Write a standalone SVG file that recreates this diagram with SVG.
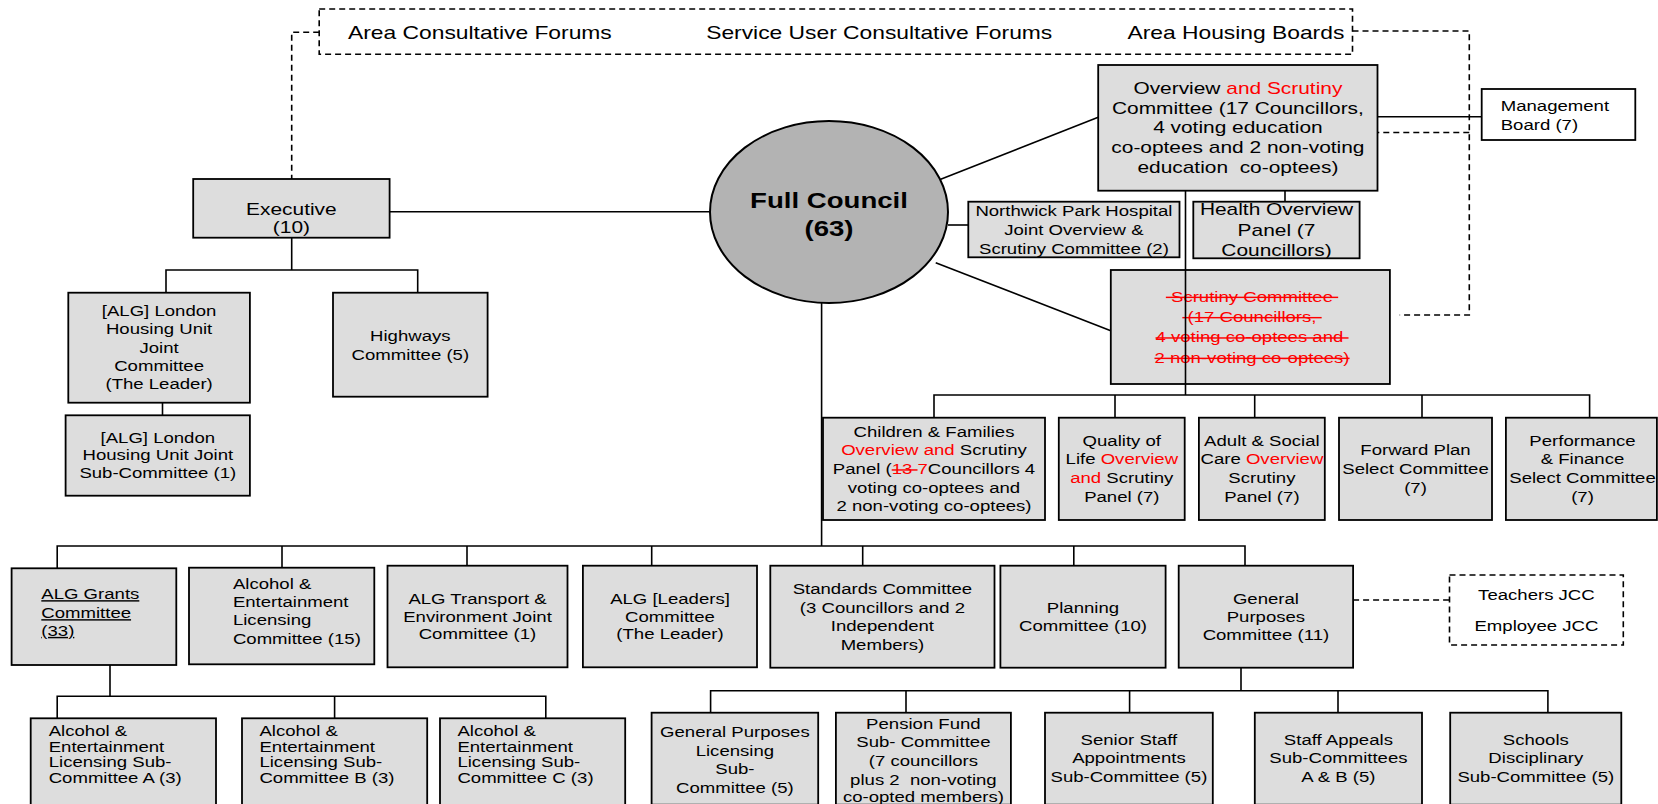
<svg xmlns="http://www.w3.org/2000/svg" width="1658" height="804" viewBox="0 0 1658 804">
<style>
.box{fill:#dddddd;stroke:#000;stroke-width:1.8}
.wbox{fill:#fff;stroke:#000;stroke-width:1.8}
.dbox{fill:#fff;stroke:#000;stroke-width:1.6;stroke-dasharray:6 4}
.ln{fill:none;stroke:#000;stroke-width:1.6}
.dl{fill:none;stroke:#000;stroke-width:1.6;stroke-dasharray:6 4}
text{font-family:"Liberation Sans",Arial,sans-serif;font-size:14.4px;fill:#000}
.c text{text-anchor:middle}
.big text{font-size:16.2px}
.top{font-size:17.7px}
.fc{font-size:21.4px;font-weight:bold}
.red{fill:#ff0000}
.strike{fill:#ff0000;text-decoration:line-through;white-space:pre}
.u{text-decoration:underline}
</style>

<g id="forums">
<rect class="dbox" x="319.2" y="9" width="1033.3" height="45.3"/>
<g class="c" transform="translate(479.9 0) scale(1.29 1)"><text class="top" x="0" y="39">Area Consultative Forums</text></g>
<g class="c" transform="translate(879.2 0) scale(1.29 1)"><text class="top" x="0" y="39">Service User Consultative Forums</text></g>
<g class="c" transform="translate(1235.9 0) scale(1.29 1)"><text class="top" x="0" y="39">Area Housing Boards</text></g>
</g>

<g id="executive">
<rect class="box" x="193.2" y="179" width="196.4" height="58.7"/>
<g class="c big" transform="translate(291.4 0) scale(1.29 1)"><text x="0" y="215">Executive</text><text x="0" y="233.5">(10)</text></g>
</g>

<g id="full-council">
<ellipse cx="829" cy="212" rx="119" ry="91" fill="#b3b3b3" stroke="#000" stroke-width="2"/>
<g class="c" transform="translate(829 0) scale(1.29 1)"><text class="fc" x="0" y="207.7">Full Council</text><text class="fc" x="0" y="236">(63)</text></g>
</g>

<g id="overview">
<rect class="box" x="1098.2" y="65" width="279.3" height="125.7"/>
<g class="c big" transform="translate(1237.9 0) scale(1.29 1)">
<text x="0" y="94.3">Overview <tspan class="red">and Scrutiny</tspan></text>
<text x="0" y="114.3">Committee (17 Councillors,</text>
<text x="0" y="133.3">4 voting education</text>
<text x="0" y="153.3">co-optees and 2 non-voting</text>
<text x="0" y="172.7" style="white-space:pre">education  co-optees)</text>
</g>
</g>

<g id="management">
<rect class="wbox" x="1481.7" y="89" width="153.6" height="51"/>
<g transform="translate(1500.7 0) scale(1.29 1)"><text x="0" y="111">Management</text><text x="0" y="130">Board (7)</text></g>
</g>

<g id="northwick">
<rect class="box" x="968.3" y="201.7" width="211.2" height="55.6"/>
<g class="c" transform="translate(1073.9 0) scale(1.29 1)">
<text x="0" y="216">Northwick Park Hospital</text>
<text x="0" y="235">Joint Overview &amp;</text>
<text x="0" y="254">Scrutiny Committee (2)</text>
</g>
</g>

<g id="health">
<rect class="box" x="1193.3" y="201.7" width="166.3" height="56.6"/>
<g class="c big" transform="translate(1276.5 0) scale(1.29 1)">
<text x="0" y="215">Health Overview</text>
<text x="0" y="236">Panel (7</text>
<text x="0" y="255.7">Councillors)</text>
</g>
</g>

<g id="scrutiny">
<rect class="box" x="1110.8" y="270" width="279.1" height="114"/>
<g class="c" transform="translate(1252 0) scale(1.29 1)">
<text class="strike" x="0" y="301.7"> Scrutiny Committee </text>
<text class="strike" x="0" y="322"> (17 Councillors, </text>
<text class="strike" x="0" y="342.3">4 voting co-optees and </text>
<text class="strike" x="0" y="362.7">2 non-voting co-optees)</text>
</g>
</g>

<g id="children-panel">
<rect class="box" x="823" y="417.7" width="222" height="102.3"/>
<g class="c" transform="translate(934 0) scale(1.29 1)">
<text x="0" y="437">Children &amp; Families</text>
<text x="0" y="455.3"><tspan class="red">Overview and</tspan> Scrutiny</text>
<text x="0" y="474.3" style="white-space:pre">Panel (<tspan class="strike">13 </tspan><tspan class="red">7</tspan>Councillors 4</text>
<text x="0" y="493">voting co-optees and</text>
<text x="0" y="511">2 non-voting co-optees)</text>
</g>
</g>

<g id="quality-panel">
<rect class="box" x="1058.8" y="417.7" width="125.9" height="102.3"/>
<g class="c" transform="translate(1121.8 0) scale(1.29 1)">
<text x="0" y="446.3">Quality of</text>
<text x="0" y="464.3">Life <tspan class="red">Overview</tspan></text>
<text x="0" y="483.3"><tspan class="red">and</tspan> Scrutiny</text>
<text x="0" y="501.7">Panel (7)</text>
</g>
</g>

<g id="adult-panel">
<rect class="box" x="1198.9" y="417.7" width="125.9" height="102.3"/>
<g class="c" transform="translate(1261.9 0) scale(1.29 1)">
<text x="0" y="446.3">Adult &amp; Social</text>
<text x="0" y="464.3">Care <tspan class="red">Overview</tspan></text>
<text x="0" y="483.3">Scrutiny</text>
<text x="0" y="501.7">Panel (7)</text>
</g>
</g>

<g id="forward-plan">
<rect class="box" x="1339" y="417.7" width="153" height="102.3"/>
<g class="c" transform="translate(1415.5 0) scale(1.29 1)">
<text x="0" y="455.3">Forward Plan</text>
<text x="0" y="474.3">Select Committee</text>
<text x="0" y="493">(7)</text>
</g>
</g>

<g id="performance">
<rect class="box" x="1505.9" y="417.7" width="151" height="102.3"/>
<g class="c" transform="translate(1582.5 0) scale(1.29 1)">
<text x="0" y="446.3">Performance</text>
<text x="0" y="464.3">&amp; Finance</text>
<text x="0" y="483.3">Select Committee</text>
<text x="0" y="501.7">(7)</text>
</g>
</g>

<g id="housing-joint">
<rect class="box" x="68.3" y="292.7" width="181.6" height="110"/>
<g class="c" transform="translate(159.1 0) scale(1.29 1)">
<text x="0" y="316">[ALG] London</text>
<text x="0" y="334.3">Housing Unit</text>
<text x="0" y="352.7">Joint</text>
<text x="0" y="371">Committee</text>
<text x="0" y="389.3">(The Leader)</text>
</g>
</g>

<g id="housing-sub">
<rect class="box" x="65.6" y="415.3" width="184.3" height="80.4"/>
<g class="c" transform="translate(157.8 0) scale(1.29 1)">
<text x="0" y="442.7">[ALG] London</text>
<text x="0" y="460.3">Housing Unit Joint</text>
<text x="0" y="477.7">Sub-Committee (1)</text>
</g>
</g>

<g id="highways">
<rect class="box" x="333" y="292.7" width="154.6" height="104"/>
<g class="c" transform="translate(410.3 0) scale(1.29 1)">
<text x="0" y="341">Highways</text>
<text x="0" y="360">Committee (5)</text>
</g>
</g>

<g id="alg-grants">
<rect class="box" x="11.6" y="568.3" width="164.7" height="96.7"/>
<g transform="translate(41.3 0) scale(1.29 1)">
<text class="u" x="0" y="599.3">ALG Grants</text>
<text class="u" x="0" y="618.3">Committee</text>
<text class="u" x="0" y="636">(33)</text>
</g>
</g>

<g id="alcohol-licensing">
<rect class="box" x="189" y="567.7" width="185.3" height="96.6"/>
<g transform="translate(232.9 0) scale(1.29 1)">
<text x="0" y="588.7">Alcohol &amp;</text>
<text x="0" y="607">Entertainment</text>
<text x="0" y="625.3">Licensing</text>
<text x="0" y="643.7">Committee (15)</text>
</g>
</g>

<g id="alg-transport">
<rect class="box" x="387.5" y="565.7" width="180" height="101.6"/>
<g class="c" transform="translate(477.5 0) scale(1.29 1)">
<text x="0" y="603.7">ALG Transport &amp;</text>
<text x="0" y="621.7">Environment Joint</text>
<text x="0" y="639.3">Committee (1)</text>
</g>
</g>

<g id="alg-leaders">
<rect class="box" x="582.9" y="565.7" width="174.1" height="101.6"/>
<g class="c" transform="translate(670 0) scale(1.29 1)">
<text x="0" y="603.7">ALG [Leaders]</text>
<text x="0" y="621.7">Committee</text>
<text x="0" y="639.3">(The Leader)</text>
</g>
</g>

<g id="standards">
<rect class="box" x="770.3" y="565.7" width="224.2" height="102"/>
<g class="c" transform="translate(882.4 0) scale(1.29 1)">
<text x="0" y="594.3">Standards Committee</text>
<text x="0" y="612.7">(3 Councillors and 2</text>
<text x="0" y="631">Independent</text>
<text x="0" y="649.7">Members)</text>
</g>
</g>

<g id="planning">
<rect class="box" x="1000.4" y="565.7" width="165.2" height="102"/>
<g class="c" transform="translate(1083 0) scale(1.29 1)">
<text x="0" y="613">Planning</text>
<text x="0" y="631">Committee (10)</text>
</g>
</g>

<g id="general-purposes">
<rect class="box" x="1178.7" y="565.7" width="174.4" height="102"/>
<g class="c" transform="translate(1265.9 0) scale(1.29 1)">
<text x="0" y="603.7">General</text>
<text x="0" y="621.7">Purposes</text>
<text x="0" y="639.7">Committee (11)</text>
</g>
</g>

<g id="jcc">
<rect class="dbox" x="1449.5" y="575" width="173.8" height="70"/>
<g class="c" transform="translate(1536.4 0) scale(1.29 1)">
<text x="0" y="600.3">Teachers JCC</text>
<text x="0" y="630.7">Employee JCC</text>
</g>
</g>

<g id="alcohol-sub-a">
<rect class="box" x="30.7" y="718.3" width="185.3" height="87"/>
<g transform="translate(48.7 0) scale(1.29 1)">
<text x="0" y="736">Alcohol &amp;</text>
<text x="0" y="751.7">Entertainment</text>
<text x="0" y="767">Licensing Sub-</text>
<text x="0" y="782.7">Committee A (3)</text>
</g>
</g>

<g id="alcohol-sub-b">
<rect class="box" x="242" y="718.3" width="185.2" height="87"/>
<g transform="translate(259.4 0) scale(1.29 1)">
<text x="0" y="736">Alcohol &amp;</text>
<text x="0" y="751.7">Entertainment</text>
<text x="0" y="767">Licensing Sub-</text>
<text x="0" y="782.7">Committee B (3)</text>
</g>
</g>

<g id="alcohol-sub-c">
<rect class="box" x="440" y="718.3" width="185.2" height="87"/>
<g transform="translate(457.4 0) scale(1.29 1)">
<text x="0" y="736">Alcohol &amp;</text>
<text x="0" y="751.7">Entertainment</text>
<text x="0" y="767">Licensing Sub-</text>
<text x="0" y="782.7">Committee C (3)</text>
</g>
</g>

<g id="gp-licensing">
<rect class="box" x="651.6" y="712.7" width="166.6" height="92"/>
<g class="c" transform="translate(734.9 0) scale(1.29 1)">
<text x="0" y="737.5">General Purposes</text>
<text x="0" y="756">Licensing</text>
<text x="0" y="774.5">Sub-</text>
<text x="0" y="793">Committee (5)</text>
</g>
</g>

<g id="pension-fund">
<rect class="box" x="835.9" y="712.7" width="175" height="92"/>
<g class="c" transform="translate(923.4 0) scale(1.29 1)">
<text x="0" y="729">Pension Fund</text>
<text x="0" y="747.5">Sub- Committee</text>
<text x="0" y="766.5">(7 councillors</text>
<text x="0" y="785" style="white-space:pre">plus 2  non-voting</text>
<text x="0" y="802">co-opted members)</text>
</g>
</g>

<g id="senior-staff">
<rect class="box" x="1045" y="712.7" width="167.8" height="92"/>
<g class="c" transform="translate(1128.9 0) scale(1.29 1)">
<text x="0" y="745">Senior Staff</text>
<text x="0" y="763.3">Appointments</text>
<text x="0" y="782.3">Sub-Committee (5)</text>
</g>
</g>

<g id="staff-appeals">
<rect class="box" x="1254.8" y="712.7" width="167.2" height="92"/>
<g class="c" transform="translate(1338.4 0) scale(1.29 1)">
<text x="0" y="745">Staff Appeals</text>
<text x="0" y="763.3">Sub-Committees</text>
<text x="0" y="782.3">A &amp; B (5)</text>
</g>
</g>

<g id="schools-disciplinary">
<rect class="box" x="1450.2" y="712.7" width="171.1" height="92"/>
<g class="c" transform="translate(1535.8 0) scale(1.29 1)">
<text x="0" y="745">Schools</text>
<text x="0" y="763.3">Disciplinary</text>
<text x="0" y="782.3">Sub-Committee (5)</text>
</g>
</g>

<g id="connectors">
<path class="ln" d="M389.6 211.7H710"/>
<path class="ln" d="M940.7 179.3L1098.2 117.3"/>
<path class="ln" d="M948 225H968.3"/>
<path class="ln" d="M935.7 262.7L1110.8 330.7"/>
<path class="ln" d="M1377.5 116.7H1481.7"/>
<path class="ln" d="M1285 190.7V201.7"/>
<path class="ln" d="M1185.5 190.7V395" stroke-width="1.2"/>
<path class="ln" d="M934 417.7V395H1589.6V417.7M1115 395V417.7M1254.7 395V417.7M1422 395V417.7"/>
<path class="ln" d="M291.7 237.7V270M166 292.7V270H417.7V292.7"/>
<path class="ln" d="M162.5 402.7V415.3"/>
<path class="ln" d="M821.6 303V546"/>
<path class="ln" d="M57.2 568.3V546H1245V565.7M282 546V567.7M467 546V565.7M651.7 546V565.7M862.7 546V565.7M1073.8 546V565.7"/>
<path class="ln" d="M110 665V696.3M57.2 718.3V696.3H545.8V718.3M334.6 696.3V718.3"/>
<path class="ln" d="M1241 667.7V690.7M710.6 712.7V690.7H1547.9V712.7M906 690.7V712.7M1129.6 690.7V712.7M1338 690.7V712.7"/>
<path class="dl" d="M319.2 32.3H291.7V179"/>
<path class="dl" d="M1352.5 31H1469.3V315H1399.7"/>
<path class="dl" d="M1469.3 132.5H1377.5"/>
<path class="dl" d="M1353.1 600H1449.5"/>
</g>
</svg>
